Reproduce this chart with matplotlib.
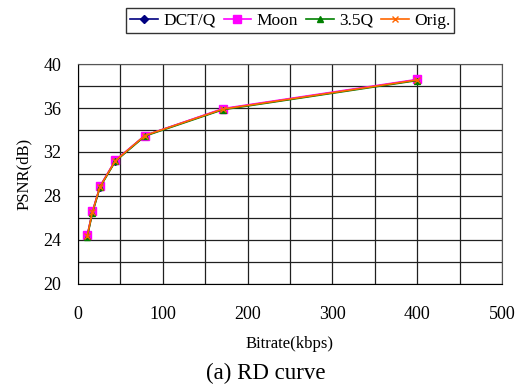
import matplotlib
matplotlib.use("Agg")
import matplotlib.pyplot as plt

plt.rcParams['font.family'] = ['Liberation Serif', 'DejaVu Serif']

bitrate = [11, 17, 26, 44, 79, 171, 400]
dctq = [24.4, 26.55, 28.85, 31.2, 33.5, 35.9, 38.55]
moon = [24.45, 26.6, 28.9, 31.25, 33.5, 35.95, 38.6]
q35 = [24.3, 26.45, 28.8, 31.15, 33.45, 35.85, 38.5]
orig = [24.4, 26.55, 28.85, 31.2, 33.5, 35.9, 38.55]

fig = plt.figure(figsize=(5.21, 3.87), dpi=100)
ax = fig.add_axes([0.1497, 0.2662, 0.8138, 0.5684])

ax.plot(bitrate, dctq, color='#000080', marker='D', markersize=4, lw=1.2, label='DCT/Q')
ax.plot(bitrate, moon, color='#ff00ff', marker='s', markersize=5.5, lw=1.2, label='Moon')
ax.plot(bitrate, q35, color='#008000', marker='^', markersize=5, lw=1.2, label='3.5Q')
ax.plot(bitrate, orig, color='#ff6600', marker='x', markersize=5, lw=1.2, label='Orig.')

ax.set_xlim(0, 500)
ax.set_ylim(20, 40)
ax.set_xticks(range(0, 501, 100))
ax.set_xticks(range(0, 501, 50), minor=True)
ax.set_yticks(range(20, 41, 4))
ax.set_yticks(range(20, 41, 2), minor=True)
ax.grid(True, which='both', color='#202020', lw=0.9)
ax.tick_params(which='both', length=0, labelsize=13, pad=16)
ax.tick_params(axis='y', pad=12)
for s in ax.spines.values():
    s.set_color('#555555')
ax.spines['left'].set_color('black')
ax.spines['bottom'].set_color('black')
ax.set_axisbelow(True)

ax.set_ylabel('PSNR(dB)', fontsize=12, labelpad=8)
ax.set_xlabel('Bitrate(kbps)', fontsize=12, labelpad=9)

fig.legend(loc='upper center', bbox_to_anchor=(0.557, 0.992), ncol=4, fontsize=12.5,
           frameon=True, fancybox=False, edgecolor='black', handlelength=1.6,
           handletextpad=0.3, columnspacing=0.45, borderpad=0.25,
           borderaxespad=0.3)

fig.text(0.51, 0.02, '(a) RD curve', ha='center', fontsize=16.5)

fig.savefig('out.png', dpi=100)
